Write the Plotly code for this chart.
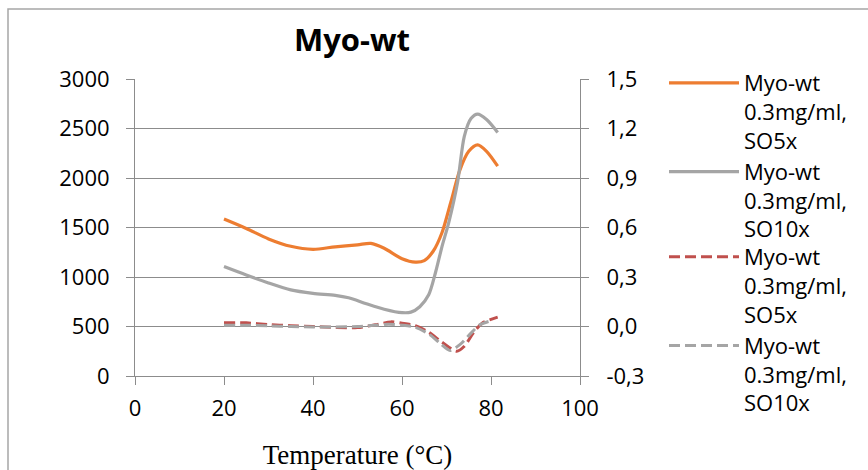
import plotly.graph_objects as go

# Temperature scan (°C) and fluorescence intensity, solid curves (left axis)
temp_so5 = [20, 25, 30, 35, 40, 45, 50, 53, 56, 60, 63, 65, 67, 69, 71, 73, 75, 77, 79, 81.5]
int_so5 = [1585, 1490, 1385, 1310, 1280, 1305, 1325, 1340, 1290, 1185, 1150, 1165, 1260, 1450,
           1760, 2080, 2270, 2335, 2270, 2120]

temp_so10 = [20, 25, 30, 35, 40, 45, 48, 52, 56, 60, 62, 64, 66, 67.5, 69, 70.5, 72.5, 74,
             75.5, 77, 79, 81.5]
int_so10 = [1105, 1020, 940, 870, 835, 815, 790, 730, 675, 640, 645, 700, 820, 1040, 1310,
            1550, 1960, 2420, 2600, 2645, 2590, 2460]

# First derivative, dashed curves (right axis)
dtemp_so5 = [20, 25, 30, 35, 40, 45, 50, 54, 57.5, 60, 63, 66, 69, 72.3, 74, 76, 78, 81.5]
deriv_so5 = [0.022, 0.022, 0.012, 0.005, 0.0, -0.006, -0.006, 0.01, 0.028, 0.02, 0.005,
             -0.035, -0.095, -0.15, -0.12, -0.04, 0.02, 0.057]

dtemp_so10 = [20, 25, 30, 35, 40, 45, 50, 54, 57, 60, 63, 66, 68.5, 70.8, 73, 75.5, 77.5, 80]
deriv_so10 = [0.008, 0.008, 0.004, 0.0, -0.003, -0.003, 0.0, 0.008, 0.013, 0.008, -0.005,
              -0.045, -0.1, -0.145, -0.11, -0.04, 0.01, 0.035]

series_names = ["Myo-wt<br>0.3mg/ml,<br>SO5x", "Myo-wt<br>0.3mg/ml,<br>SO10x",
                "Myo-wt<br>0.3mg/ml,<br>SO5x", "Myo-wt<br>0.3mg/ml,<br>SO10x"]

x_ticks = [0, 20, 40, 60, 80, 100]
y2_ticks = [-0.3, 0.0, 0.3, 0.6, 0.9, 1.2, 1.5]
y2_ticktext = ["-0,3", "0,0", "0,3", "0,6", "0,9", "1,2", "1,5"]

ORANGE = "#ED7D31"
GRAY = "#A5A5A5"
RED = "#C0504D"
AXIS = "#8C8C8C"
FONT = "'Open Sans', Lato, sans-serif"

fig = go.Figure()
fig.add_trace(go.Scatter(x=temp_so5, y=int_so5, name=series_names[0], mode="lines",
                         legend="legend",
                         line=dict(color=ORANGE, width=3.2, shape="spline", smoothing=0.8)))
fig.add_trace(go.Scatter(x=temp_so10, y=int_so10, name=series_names[1], mode="lines",
                         legend="legend",
                         line=dict(color=GRAY, width=3.2, shape="spline", smoothing=0.8)))
fig.add_trace(go.Scatter(x=dtemp_so5, y=deriv_so5, name=series_names[2], mode="lines",
                         yaxis="y2", legend="legend2",
                         line=dict(color=RED, width=3, dash="11px,5px", shape="spline",
                                   smoothing=0.8)))
fig.add_trace(go.Scatter(x=dtemp_so10, y=deriv_so10, name=series_names[3], mode="lines",
                         yaxis="y2", legend="legend2",
                         line=dict(color=GRAY, width=3, dash="11px,5px", shape="spline",
                                   smoothing=0.8)))

tickfont = dict(family=FONT, size=22, color="#000000")
legendfont = dict(family=FONT, size=22, color="#000000")

fig.update_layout(
    width=868, height=470,
    margin=dict(l=135, r=288, t=79, b=94),
    paper_bgcolor="white", plot_bgcolor="white",
    showlegend=True,
    title=dict(text="<b>Myo-wt</b>", font=dict(family=FONT, size=31, color="#000000"),
               xref="container", x=352 / 868, xanchor="center",
               yref="container", y=1 - 40 / 470, yanchor="middle"),
    xaxis=dict(range=[0, 100], tickvals=x_ticks, ticks="outside", ticklen=8,
               tickcolor=AXIS, showline=True, linecolor=AXIS, linewidth=1,
               showgrid=False, zeroline=False, tickfont=tickfont, automargin=False,
               ticklabelstandoff=5,
               title=dict(text="Temperature (°C)", standoff=23,
                          font=dict(family="'Liberation Serif', 'Times New Roman', serif",
                                    size=27, color="#000000"))),
    yaxis=dict(range=[0, 3000], dtick=500, ticks="outside", ticklen=8, tickcolor=AXIS,
               showline=True, linecolor=AXIS, linewidth=1, showgrid=True,
               gridcolor=AXIS, gridwidth=1, zeroline=False, tickfont=tickfont,
               ticklabelstandoff=12, automargin=False),
    yaxis2=dict(range=[-0.3, 1.5], overlaying="y", side="right", tickvals=y2_ticks,
                ticktext=y2_ticktext, ticks="outside", ticklen=8, tickcolor=AXIS,
                showline=True, linecolor=AXIS, linewidth=1, showgrid=False,
                zeroline=False, tickfont=tickfont, ticklabelstandoff=13, automargin=False),
    legend=dict(x=(664 - 135) / 445, xanchor="left", y=(376 - 62) / 297, yanchor="top",
                font=legendfont, valign="top", itemwidth=70, tracegroupgap=0,
                bgcolor="rgba(0,0,0,0)"),
    legend2=dict(x=(664 - 135) / 445, xanchor="left", y=(376 - 236) / 297, yanchor="top",
                 font=legendfont, valign="top", itemwidth=70, tracegroupgap=0,
                 bgcolor="rgba(0,0,0,0)"),
    shapes=[dict(type="rect", xref="paper", yref="paper",
                 x0=(8 - 135) / 445, x1=(872 - 135) / 445,
                 y0=(376 - 475) / 297, y1=(376 - 9) / 297,
                 line=dict(color="#A6A6A6", width=1.5), layer="below")],
)

fig.write_html("out.html")
